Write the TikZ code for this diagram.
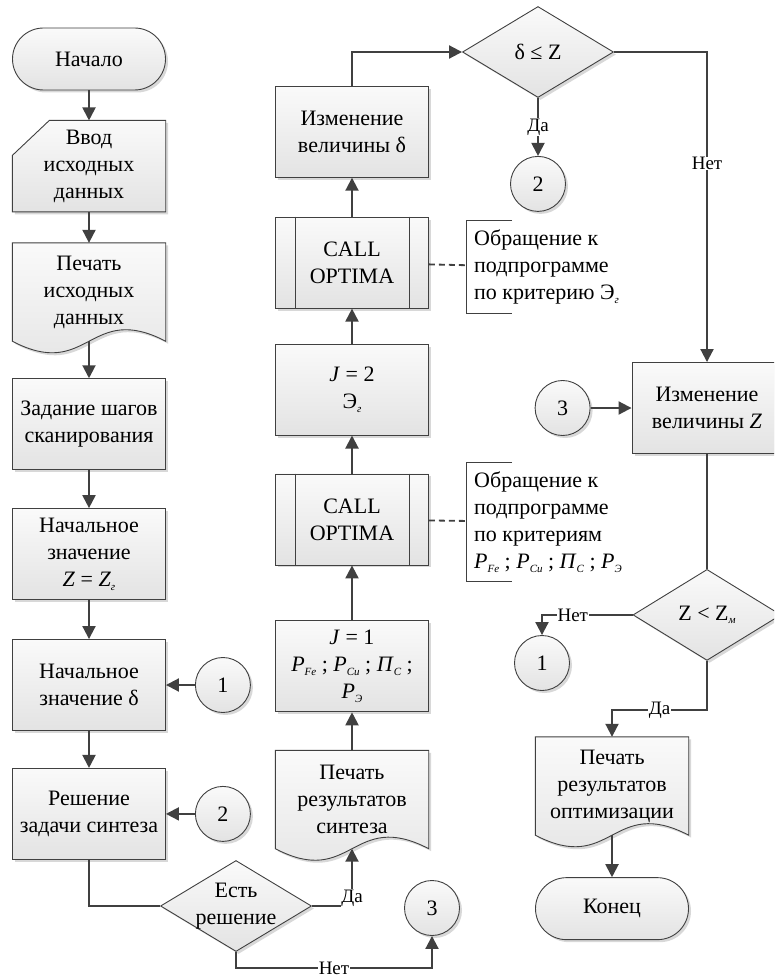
\documentclass[tikz,border=0pt]{standalone}
\usepackage{fontspec}
\setmainfont{Liberation Serif}
\usetikzlibrary{positioning,arrows.meta,shapes.geometric,shadows,backgrounds}
\definecolor{ink}{HTML}{404040}
\newcommand{\lo}[1]{\raisebox{-.35ex}{\fontsize{11}{11}\selectfont\itshape #1}}

\begin{document}
\begin{tikzpicture}[x=1pt,y=-1pt,
  font=\fontsize{22}{27}\selectfont,
  outline/.style={draw=ink,line width=.9pt},
  grayfill/.style={top color=black!2,bottom color=black!11,
    drop shadow={shadow xshift=2.5pt,shadow yshift=-2.5pt,fill=black!30,opacity=.5}},
  box/.style={rectangle,outline,grayfill,minimum width=153pt,minimum height=91pt,
              align=center,inner sep=2pt},
  term/.style={box,rounded corners=31pt,minimum height=62pt},
  docbody/.style={rectangle,minimum width=153pt,minimum height=98pt,align=center,inner sep=2pt},
  decision/.style={diamond,outline,grayfill,minimum width=151pt,minimum height=91pt,inner sep=0pt},
  joint/.style={circle,outline,grayfill,minimum size=55pt,inner sep=0pt},
  note/.style={anchor=west,align=left,inner xsep=8pt,inner ysep=9pt},
  flow/.style={draw=ink,line width=2pt},
  arrow/.style={flow,-{Triangle[length=13pt,width=13pt]}},
  tag/.style={fill=white,inner sep=.5pt,font=\fontsize{19}{21}\selectfont}]
\useasboundingbox (0,0) rectangle (774,979);
\clip (0,0) rectangle (774,979);

\node[term] (start) at (89,59) {Начало};
\node[docbody,minimum height=91pt,below=30pt of start] (input) {Ввод\\исходных\\данных};
\node[docbody,below=31pt of input] (doc1) {Печать\\исходных\\данных};
\node[box,below=37pt of doc1] (task) {Задание шагов\\сканирования};
\node[box,below=38pt of task] (initZ) {Начальное\\значение\\\textit{Z} = \textit{Z}\lo{г}};
\node[box,below=39pt of initZ] (initD) {Начальное\\значение δ};
\node[box,below=37pt of initD] (solve) {Решение\\задачи синтеза};
\node[joint,right=29pt of initD] (c1a) {1};
\node[joint,right=29pt of solve] (c2a) {2};
\node[decision,label={[align=center]center:Есть\\решение}] (d1) at (236,906) {};
\node[joint] (c3a) at (432,908) {3};

\node[docbody] (doc2) at (352,799.5) {Печать\\результатов\\синтеза};
\node[box,above=38pt of doc2] (j1) {\textit{J} = 1\\\textit{P}\lo{Fe} ; \textit{P}\lo{Cu} ; \textit{П}\lo{C} ;\\\textit{P}\lo{Э}};
\node[box,above=55pt of j1] (call1) {CALL\\OPTIMA};
\node[box,above=38pt of call1] (j2) {\textit{J} = 2\\Э\lo{г}};
\node[box,above=35pt of j2] (call2) {CALL\\OPTIMA};
\node[box,above=39pt of call2] (chd) {Изменение\\величины δ};
\node[note] (n1) at (466,267) {Обращение к\\подпрограмме\\по критерию Э\lo{г}};
\node[note] (n2) at (466,522) {Обращение к\\подпрограмме\\по критериям\\\textit{P}\lo{Fe} ; \textit{P}\lo{Cu} ; \textit{П}\lo{C} ; \textit{P}\lo{Э}};

\node[decision] (d2) at (538,52) {δ ≤ Z};
\node[joint,below=58pt of d2] (c2b) {2};
\node[box,minimum width=150pt] (chz) at (707,408) {Изменение\\величины \textit{Z}};
\node[joint,left=41pt of chz] (c3b) {3};
\node[decision,minimum width=148pt,below=115pt of chz] (d3) {Z < Z\lo{м}};
\node[joint] (c1b) at (542,663) {1};
\node[docbody] (doc3) at (612,786) {Печать\\результатов\\оптимизации};
\node[term,below=42pt of doc3] (finish) {Конец};

\begin{scope}[on background layer]
  \draw[outline,grayfill] (input.south west) -- ([yshift=-35pt]input.north west)
    -- ([xshift=37pt]input.north west) -- (input.north east) -- (input.south east) -- cycle;
  \foreach \d in {doc1,doc2,doc3}
    \draw[outline,grayfill] (\d.south west) -- (\d.north west) -- (\d.north east) -- (\d.south east)
      .. controls ([yshift=40pt]\d.south) and ([yshift=-40pt]\d.south) .. (\d.south west) -- cycle;
\end{scope}
\foreach \c in {call1,call2}
  \draw[outline] ([xshift=20pt]\c.north west) -- ([xshift=20pt]\c.south west)
                 ([xshift=-20pt]\c.north east) -- ([xshift=-20pt]\c.south east);
\foreach \n in {n1,n2}
  \draw[outline] ([xshift=46pt]\n.north west) -- (\n.north west) -- (\n.south west) -- ([xshift=46pt]\n.south west);
\draw[outline,line width=1.8pt,dash pattern=on 6pt off 4pt] (call2) -- (n1);
\draw[outline,line width=1.8pt,dash pattern=on 6pt off 4pt] (call1) -- (n2);

\draw[arrow] (start) -- (input);
\draw[arrow] (input) -- (doc1);
\draw[arrow] (doc1.south) -- (task);
\draw[arrow] (task) -- (initZ);
\draw[arrow] (initZ) -- (initD);
\draw[arrow] (initD) -- (solve);
\draw[arrow] (c1a) -- (initD);
\draw[arrow] (c2a) -- (solve);
\draw[flow] (solve.south) |- (d1.west);
\draw[arrow] (d1.east) -| node[tag,pos=.5,yshift=8pt]{Да} (doc2.south);
\draw[arrow] (d1.south) -- ++(0,16) -| node[tag,pos=.25]{Нет} (c3a);

\draw[arrow] (doc2) -- (j1);
\draw[arrow] (j1) -- (call1);
\draw[arrow] (call1) -- (j2);
\draw[arrow] (j2) -- (call2);
\draw[arrow] (call2) -- (chd);
\draw[arrow] (chd.north) |- (d2.west);
\draw[arrow] (d2.south) -- node[tag]{Да} (c2b);
\draw[arrow] (d2.east) -| node[tag,pos=.68]{Нет} (chz.north);
\draw[arrow] (c3b) -- (chz);
\draw[flow] (chz) -- (d3);
\draw[arrow] (d3.west) -| node[tag,pos=.33]{Нет} (c1b);
\draw[arrow] (d3.south) -- ++(0,49) -| node[tag,pos=.25]{Да} (doc3.north);
\draw[arrow] (doc3.south) -- (finish);
\end{tikzpicture}
\end{document}
